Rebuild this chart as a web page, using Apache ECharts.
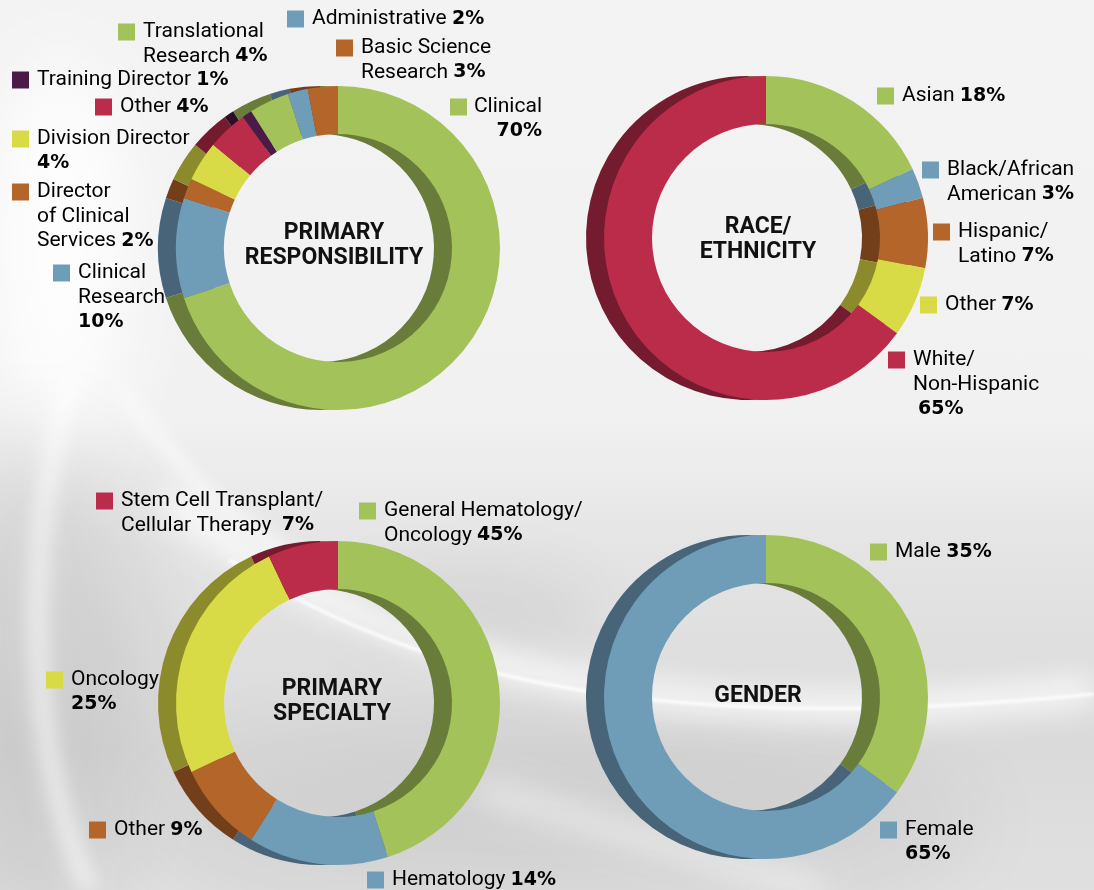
<!DOCTYPE html>
<html>
<head>
<meta charset="utf-8">
<script src="https://cdn.jsdelivr.net/npm/echarts@6/dist/echarts.min.js"></script>
<style>
    html, body { margin: 0; padding: 0; }
    #chart {
        width: 1094px; height: 890px;
        background: linear-gradient(to bottom, #f3f3f3 0%, #f1f1f1 47%, #e4e4e4 62%, #dadada 84%, #e0e0e0 100%);
    }
</style>
</head>
<body>
<div id="chart"></div>
<script>
    // primary responsibility
    const respNames = ['Clinical', 'Clinical\nResearch', 'Director\nof Clinical\nServices', 'Division Director',
        'Other', 'Training Director', 'Translational\nResearch', 'Administrative', 'Basic Science\nResearch'];
    const respValues = [70, 10, 2, 4, 4, 1, 4, 2, 3];
    // race / ethnicity
    const raceNames = ['Asian', 'Black/African\nAmerican', 'Hispanic/\nLatino', 'Other', 'White/\nNon-Hispanic'];
    const raceValues = [18, 3, 7, 7, 65];
    // primary specialty
    const specNames = ['General Hematology/\nOncology', 'Hematology', 'Other', 'Oncology', 'Stem Cell Transplant/\nCellular Therapy '];
    const specValues = [45, 14, 9, 25, 7];
    // gender
    const genderNames = ['Male', 'Female'];
    const genderValues = [35, 65];

    // [front colour, depth colour]
    const PAL = {
        G: ['#a3c25a', '#6a7c3a'],
        B: ['#6f9db8', '#476478'],
        O: ['#b4662a', '#733f1a'],
        Y: ['#d8db46', '#8b8b2b'],
        R: ['#bb2c4a', '#741b2f'],
        P: ['#4b1a46', '#2c0e29']
    };

    // label layout: [square x, first line centre y, value on new line, align, value indent]
    const charts = [
        {
            names: respNames, values: respValues, colors: ['G', 'B', 'O', 'Y', 'R', 'P', 'G', 'B', 'O'],
            center: [338, 248], title: 'PRIMARY\nRESPONSIBILITY', titlePos: [334, 246],
            labels: [[450, 107, true, 'right'], [53, 273, true], [12, 192, false], [12, 139, true], [95, 107, false],
                [12, 80, false], [118, 32, false], [287, 19, false], [336, 48, false]]
        },
        {
            names: raceNames, values: raceValues, colors: ['G', 'B', 'O', 'Y', 'R'],
            center: [766, 238], title: 'RACE/\nETHNICITY', titlePos: [758, 240],
            labels: [[877, 96, false], [922, 170, false], [933, 232, false], [920, 305, false], [888, 360, true, 'left', 5]]
        },
        {
            names: specNames, values: specValues, colors: ['G', 'B', 'O', 'Y', 'R'],
            center: [338, 703], title: 'PRIMARY\nSPECIALTY', titlePos: [332, 702],
            labels: [[359, 511, false], [367, 880, false], [89, 830, false], [46, 680, true], [96, 501, false]]
        },
        {
            names: genderNames, values: genderValues, colors: ['G', 'B'],
            center: [766, 697], title: 'GENDER', titlePos: [758, 696],
            labels: [[870, 552, false], [880, 830, true]]
        }
    ];

    const FONT = 'Roboto, "Open Sans", sans-serif';
    const BOLD_FONT = '"DejaVu Sans", Roboto, sans-serif';
    const LH = 24.5;
    const DEPTH = 18;

    function ringSeries(c, idx) {
        const base = {
            type: 'pie',
            radius: [114, 162],
            startAngle: 90,
            clockwise: true,
            silent: true,
            animation: false,
            label: {show: false},
            labelLine: {show: false},
            emphasis: {disabled: true}
        };
        const items = (shade) => c.values.map((v, k) => ({
            name: c.names[k].replace(/\n/g, ' ').trim(),
            value: v,
            itemStyle: {color: PAL[c.colors[k]][shade], borderWidth: 0}
        }));
        return [
            // darker copy behind, shifted left, gives the 3d edge
            Object.assign({}, base, {name: 'depth' + idx, z: 1, center: [c.center[0] - DEPTH, c.center[1]], data: items(1)}),
            Object.assign({}, base, {name: 'ring' + idx, z: 2, center: c.center, data: items(0)})
        ];
    }

    function labelGraphics(c) {
        return c.values.map((v, k) => {
            const lay = c.labels[k];
            const lines = c.names[k].split('\n');
            const last = lines.pop();
            let txt = lines.map(l => '{n|' + l + '}').join('\n');
            if (txt) txt += '\n';
            const val = (lay[4] ? '{i|' : '{b|') + v + '%}';
            if (lay[2]) txt += '{n|' + last + '}\n' + val;
            else txt += '{n|' + last + ' }' + val;
            const right = lay[3] === 'right';
            const bold = {fontFamily: BOLD_FONT, fontSize: 19, fontWeight: 'bold', color: '#111', lineHeight: LH};
            return {
                type: 'group', x: lay[0], y: lay[1], z: 10,
                children: [
                    {type: 'rect', shape: {x: 0, y: -8.5, width: 17, height: 17}, style: {fill: PAL[c.colors[k]][0]}},
                    {
                        type: 'text', x: right ? 92 : 25, y: -LH / 2,
                        style: {
                            text: txt, align: right ? 'right' : 'left', verticalAlign: 'top',
                            rich: {
                                n: {fontFamily: FONT, fontSize: 21, color: '#1c1c1c', lineHeight: LH},
                                b: bold,
                                i: Object.assign({}, bold, {padding: [0, 0, 0, lay[4] || 0]})
                            }
                        }
                    }
                ]
            };
        });
    }

    // soft background shapes: drawn off canvas, only their blurred shadow shows
    const OFF = 3000;
    function softCurve(p, width, color, blur) {
        return {
            type: 'bezierCurve', z: 0, silent: true,
            shape: {x1: p[0], y1: p[1] - OFF, cpx1: p[2], cpy1: p[3] - OFF, cpx2: p[4], cpy2: p[5] - OFF, x2: p[6], y2: p[7] - OFF},
            style: {stroke: '#fff', lineWidth: width, fill: null, shadowBlur: blur, shadowColor: color, shadowOffsetY: OFF}
        };
    }
    function softBlob(cx, cy, rx, ry, color, blur) {
        return {
            type: 'ellipse', z: 0, silent: true,
            shape: {cx: cx, cy: cy - OFF, rx: rx, ry: ry},
            style: {fill: '#000', shadowBlur: blur, shadowColor: color, shadowOffsetY: OFF}
        };
    }

    let graphics = [
        softBlob(60, 250, 70, 200, 'rgba(255,255,255,0.9)', 80),
        softBlob(40, 680, 110, 260, 'rgba(0,0,0,0.07)', 90),
        softBlob(560, 820, 420, 90, 'rgba(0,0,0,0.06)', 100),
        softBlob(470, 610, 130, 40, 'rgba(0,0,0,0.06)', 70),
        softCurve([170, 500, 380, 660, 650, 745, 1094, 690], 26, 'rgba(255,255,255,0.85)', 30),
        softCurve([230, 560, 420, 680, 660, 738, 1094, 694], 3, 'rgba(255,255,255,0.9)', 3),
        softCurve([70, 380, 20, 560, 30, 760, 90, 890], 14, 'rgba(255,255,255,0.8)', 20),
        softCurve([120, 390, 180, 470, 230, 520, 300, 560], 10, 'rgba(255,255,255,0.7)', 16),
        softCurve([480, 790, 620, 830, 720, 860, 820, 890], 18, 'rgba(255,255,255,0.6)', 30)
    ];

    charts.forEach(c => {
        graphics = graphics.concat(labelGraphics(c));
        graphics.push({
            type: 'text', x: c.titlePos[0], y: c.titlePos[1], z: 10,
            style: {
                text: c.title, align: 'center', verticalAlign: 'middle',
                fontFamily: FONT, fontSize: 23, fontWeight: 'bold', fill: '#111', lineHeight: 25
            }
        });
    });

    let series = [];
    charts.forEach((c, i) => { series = series.concat(ringSeries(c, i)); });

    const chart = echarts.init(document.getElementById('chart'), null, {renderer: 'canvas'});
    chart.setOption({
        backgroundColor: 'transparent',
        animation: false,
        tooltip: {show: false},
        legend: {show: false},
        graphic: graphics,
        series: series
    });
</script>
</body>
</html>
